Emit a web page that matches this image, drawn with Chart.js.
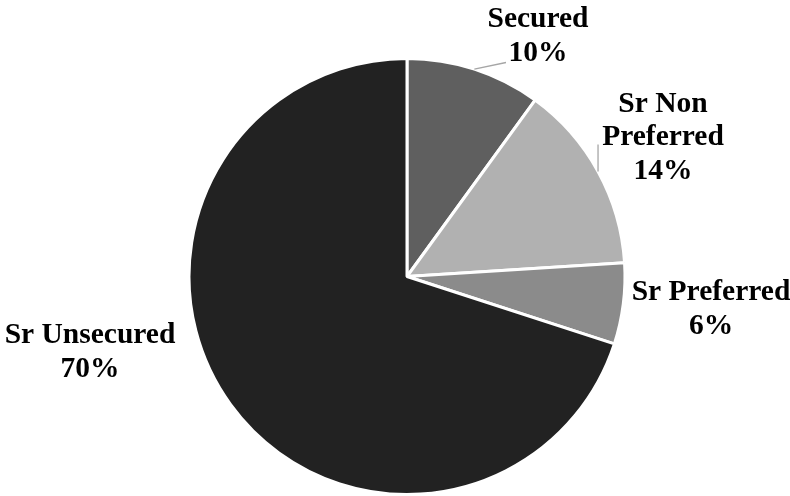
<!DOCTYPE html>
<html>
<head>
<meta charset="utf-8">
<script src="https://cdn.jsdelivr.net/npm/chart.js@4.4.1/dist/chart.umd.min.js"></script>
<style>
html,body{margin:0;padding:0;background:#fff;}
#wrap{width:790px;height:496px;position:relative;}
</style>
</head>
<body>
<div id="wrap"><canvas id="c" width="790" height="496"></canvas></div>
<script>
const categories = ["Secured", "Sr Non Preferred", "Sr Preferred", "Sr Unsecured"];
const shares = [10, 14, 6, 70];
const labelLines = [["Secured"], ["Sr Non", "Preferred"], ["Sr Preferred"], ["Sr Unsecured"]];
const sliceColors = ["#5f5f5f", "#b1b1b1", "#8b8b8b", "#222222"];

// label layout: offsets of label block centre from pie centre (px), and leader style
const labelLayout = [
  {dx: 131, dy: -240, leader: "diag", end: [99, -214]},
  {dx: 256, dy: -139, leader: "vert", endDy: -132},
  {dx: 304, dy: 33, leader: null},
  {dx: -317, dy: 76, leader: null}
];

const labelPlugin = {
  id: 'pieLabels',
  afterDatasetsDraw(chart) {
    const ctx = chart.ctx;
    const meta = chart.getDatasetMeta(0);
    const fs = 29.5, lh = 33.5;
    ctx.save();
    meta.data.forEach((arc, i) => {
      const p = arc.getProps(['x', 'y', 'startAngle', 'endAngle', 'outerRadius'], true);
      const cx = p.x, cy = p.y;
      const L = labelLayout[i];
      const mid = (p.startAngle + p.endAngle) / 2;
      if (L.leader) {
        const sx = cx + Math.cos(mid) * p.outerRadius;
        const sy = cy + Math.sin(mid) * p.outerRadius;
        ctx.strokeStyle = '#a6a6a6';
        ctx.lineWidth = 1.3;
        ctx.beginPath();
        ctx.moveTo(sx, sy);
        if (L.leader === 'diag') ctx.lineTo(cx + L.end[0], cy + L.end[1]);
        else ctx.lineTo(sx, cy + L.endDy);
        ctx.stroke();
      }
      const lines = labelLines[i].concat([shares[i] + '%']);
      ctx.fillStyle = '#000';
      ctx.font = 'bold ' + fs + 'px "Liberation Serif", "Times New Roman", serif';
      ctx.textAlign = 'center';
      ctx.textBaseline = 'middle';
      const x0 = cx + L.dx, y0 = cy + L.dy - (lines.length - 1) * lh / 2;
      lines.forEach((t, k) => ctx.fillText(t, x0, y0 + k * lh));
    });
    ctx.restore();
  }
};

new Chart(document.getElementById('c'), {
  type: 'pie',
  data: {
    labels: categories,
    datasets: [{
      data: shares,
      backgroundColor: sliceColors,
      borderColor: '#ffffff',
      borderWidth: 3
    }]
  },
  options: {
    responsive: false,
    animation: false,
    layout: {padding: {top: 57, bottom: -2, left: 24, right: 0}},
    plugins: {legend: {display: false}, tooltip: {enabled: false}}
  },
  plugins: [labelPlugin]
});
</script>
</body>
</html>
